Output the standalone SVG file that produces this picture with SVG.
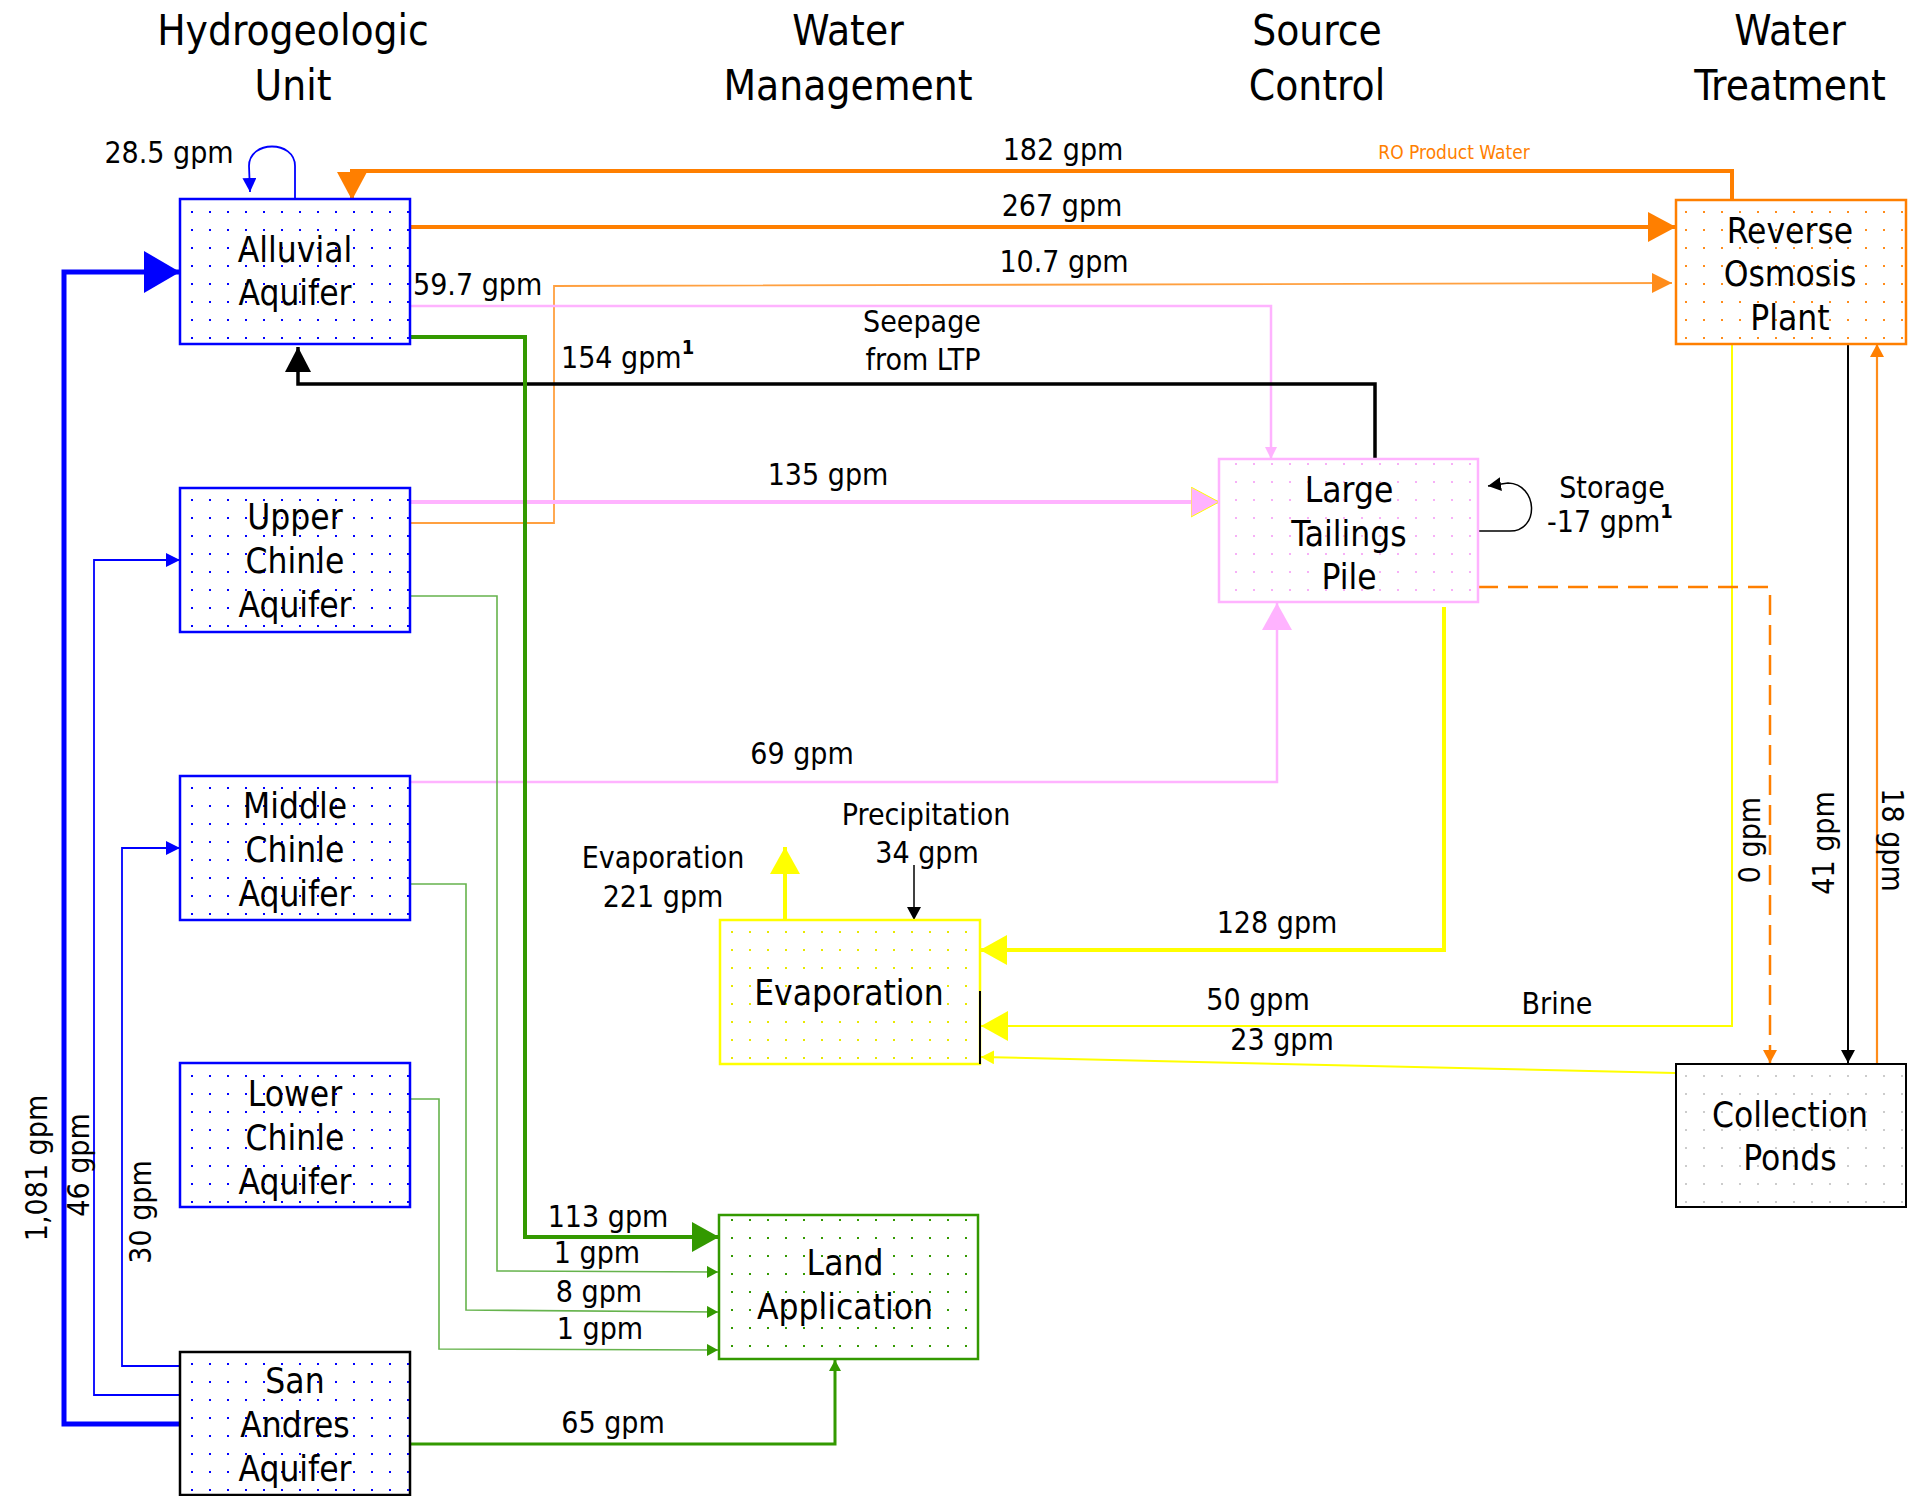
<svg xmlns="http://www.w3.org/2000/svg" width="1908" height="1496" viewBox="0 0 1908 1496">
<style>
text{font-family:"DejaVu Sans Condensed","DejaVu Sans","Liberation Sans",sans-serif;fill:#000}
.hdr{font-size:42px;text-anchor:middle}
.lbl{font-size:35px;text-anchor:middle}
.e{font-size:30px;text-anchor:middle}
.es{font-size:30px;text-anchor:start}
.sup{font-size:20px;font-weight:bold}
.box{stroke-width:2.5}
.c{fill:none}
</style>
<defs>
<pattern id="dBlue" x="3" y="5" width="18" height="18" patternUnits="userSpaceOnUse"><rect x="8" y="8" width="2" height="2" fill="#0000FF"/></pattern>
<pattern id="dPink" x="3" y="5" width="18" height="18" patternUnits="userSpaceOnUse"><rect x="8" y="8" width="2" height="2" fill="#F7B0F7"/></pattern>
<pattern id="dOrange" x="3" y="5" width="18" height="18" patternUnits="userSpaceOnUse"><rect x="8" y="8" width="2" height="2" fill="#FF8C1A"/></pattern>
<pattern id="dYellow" x="3" y="5" width="18" height="18" patternUnits="userSpaceOnUse"><rect x="8" y="8" width="2" height="2" fill="#E8E800"/></pattern>
<pattern id="dGreen" x="3" y="5" width="18" height="18" patternUnits="userSpaceOnUse"><rect x="8" y="8" width="2" height="2" fill="#339900"/></pattern>
<pattern id="dGray" x="3" y="5" width="18" height="18" patternUnits="userSpaceOnUse"><rect x="8" y="8" width="2" height="2" fill="#CCCCCC"/></pattern>
<marker id="bOrange" markerUnits="userSpaceOnUse" markerWidth="30" markerHeight="32" refX="27" refY="15" orient="auto"><path d="M0,0 L28,15 L0,30 z" fill="#FF7F00"/></marker>
<marker id="mOrange" markerUnits="userSpaceOnUse" markerWidth="22" markerHeight="22" refX="20" refY="10" orient="auto"><path d="M0,0 L20,10 L0,20 z" fill="#FF8C1A"/></marker>
<marker id="sOrange" markerUnits="userSpaceOnUse" markerWidth="16" markerHeight="16" refX="13" refY="7" orient="auto"><path d="M0,0 L13,7 L0,14 z" fill="#FF7F00"/></marker>
<marker id="bBlue" markerUnits="userSpaceOnUse" markerWidth="38" markerHeight="44" refX="36" refY="21" orient="auto"><path d="M0,0 L36,21 L0,42 z" fill="#0000FF"/></marker>
<marker id="sBlue" markerUnits="userSpaceOnUse" markerWidth="16" markerHeight="16" refX="14" refY="7" orient="auto"><path d="M0,0 L14,7 L0,14 z" fill="#0000FF"/></marker>
<marker id="bPink" markerUnits="userSpaceOnUse" markerWidth="32" markerHeight="34" refX="28" refY="15" orient="auto"><path d="M0,0 L28,15 L0,30 z" fill="#FFB3FF" stroke="#FFFF00" stroke-width="1"/></marker>
<marker id="bPink2" markerUnits="userSpaceOnUse" markerWidth="30" markerHeight="32" refX="27" refY="15" orient="auto"><path d="M0,0 L27,15 L0,30 z" fill="#FFB3FF"/></marker>
<marker id="sPink" markerUnits="userSpaceOnUse" markerWidth="14" markerHeight="14" refX="12" refY="6" orient="auto"><path d="M0,0 L12,6 L0,12 z" fill="#FFB3FF"/></marker>
<marker id="bBlack" markerUnits="userSpaceOnUse" markerWidth="28" markerHeight="30" refX="25" refY="13" orient="auto"><path d="M0,0 L25,13 L0,26 z" fill="#000"/></marker>
<marker id="sBlack" markerUnits="userSpaceOnUse" markerWidth="16" markerHeight="16" refX="13" refY="7" orient="auto"><path d="M0,0 L13,7 L0,14 z" fill="#000"/></marker>
<marker id="bYellow" markerUnits="userSpaceOnUse" markerWidth="30" markerHeight="32" refX="27" refY="15" orient="auto"><path d="M0,0 L27,15 L0,30 z" fill="#FFFF00"/></marker>
<marker id="sYellow" markerUnits="userSpaceOnUse" markerWidth="16" markerHeight="16" refX="13" refY="7" orient="auto"><path d="M0,0 L13,7 L0,14 z" fill="#FFFF00"/></marker>
<marker id="bGreen" markerUnits="userSpaceOnUse" markerWidth="30" markerHeight="32" refX="27" refY="15" orient="auto"><path d="M0,0 L27,15 L0,30 z" fill="#339900"/></marker>
<marker id="sGreen" markerUnits="userSpaceOnUse" markerWidth="14" markerHeight="14" refX="11" refY="6" orient="auto"><path d="M0,0 L11,6 L0,12 z" fill="#339900"/></marker>
</defs>
<rect width="1908" height="1496" fill="#FFFFFF"/>

<g id="headers">
<text class="hdr" x="293" y="45">Hydrogeologic</text><text class="hdr" x="293" y="100">Unit</text>
<text class="hdr" x="848" y="45">Water</text><text class="hdr" x="848" y="100">Management</text>
<text class="hdr" x="1317" y="45">Source</text><text class="hdr" x="1317" y="100">Control</text>
<text class="hdr" x="1790" y="45">Water</text><text class="hdr" x="1790" y="100">Treatment</text>
</g>

<g id="connectors" class="c">
<!-- 28.5 gpm self loop -->
<path d="M295,199 V166 C295,140 249,140 249,166 L250,192" stroke="#0000FF" stroke-width="1.8" fill="none" marker-end="url(#sBlue)"/>
<!-- 182 gpm RO product water -->
<path d="M1732,199 V171 H352 V199" stroke="#FF7F00" stroke-width="4" fill="none" marker-end="url(#bOrange)"/>
<!-- 267 gpm -->
<path d="M410,227 H1675" stroke="#FF7F00" stroke-width="4" fill="none" marker-end="url(#bOrange)"/>
<!-- 10.7 gpm -->
<path d="M410,523 H554 V286 L1672,283" stroke="#FFA040" stroke-width="1.8" fill="none" marker-end="url(#mOrange)"/>
<!-- 59.7 gpm -->
<path d="M410,306 H1271 V459" stroke="#FFB3FF" stroke-width="2.5" fill="none" marker-end="url(#sPink)"/>
<!-- 154 gpm seepage -->
<path d="M1375,459 V384 H298 V347" stroke="#000" stroke-width="3.5" fill="none" marker-end="url(#bBlack)"/>
<!-- 135 gpm -->
<path d="M410,502 H1219" stroke="#FFB3FF" stroke-width="4" fill="none" marker-end="url(#bPink)"/>
<!-- 69 gpm -->
<path d="M410,782 H1277 V603" stroke="#FFB3FF" stroke-width="2.5" fill="none" marker-end="url(#bPink2)"/>
<!-- storage loop -->
<path d="M1478,531 H1510 C1540,531 1538,484 1508,483 L1488,486" stroke="#000" stroke-width="1.5" fill="none" marker-end="url(#sBlack)"/>
<!-- 113 gpm -->
<path d="M410,337 H525 V1237 H719" stroke="#339900" stroke-width="4" fill="none" marker-end="url(#bGreen)"/>
<!-- 1 gpm upper -->
<path d="M410,596 H497 V1271 L718,1272" stroke="#66B34D" stroke-width="1.6" fill="none" marker-end="url(#sGreen)"/>
<!-- 8 gpm middle -->
<path d="M410,884 H466 V1310 L718,1312" stroke="#66B34D" stroke-width="1.6" fill="none" marker-end="url(#sGreen)"/>
<!-- 1 gpm lower -->
<path d="M410,1099 H439 V1349 L718,1350" stroke="#66B34D" stroke-width="1.6" fill="none" marker-end="url(#sGreen)"/>
<!-- 65 gpm -->
<path d="M410,1444 H835 V1360" stroke="#339900" stroke-width="3" fill="none" marker-end="url(#sGreen)"/>
<!-- 1,081 gpm -->
<path d="M180,1424 H64 V272 H180" stroke="#0000FF" stroke-width="5" fill="none" marker-end="url(#bBlue)"/>
<!-- 46 gpm -->
<path d="M180,1395 H94 V560 H180" stroke="#0000FF" stroke-width="1.8" fill="none" marker-end="url(#sBlue)"/>
<!-- 30 gpm -->
<path d="M180,1366 H122 V848 H180" stroke="#0000FF" stroke-width="1.8" fill="none" marker-end="url(#sBlue)"/>
<!-- 128 gpm -->
<path d="M1444,607 V950 H980" stroke="#FFFF00" stroke-width="4" fill="none" marker-end="url(#bYellow)"/>
<!-- brine 50 gpm -->
<path d="M1732,344 V1026 H981" stroke="#FFFF00" stroke-width="2" fill="none" marker-end="url(#bYellow)"/>
<!-- 23 gpm -->
<path d="M1675,1073 L981,1057" stroke="#FFFF00" stroke-width="2" fill="none" marker-end="url(#sYellow)"/>
<!-- evaporation 221 -->
<path d="M785,920 V847" stroke="#FFFF00" stroke-width="4" fill="none" marker-end="url(#bYellow)"/>
<!-- precipitation 34 -->
<path d="M914,865 V920" stroke="#000" stroke-width="1.5" fill="none" marker-end="url(#sBlack)"/>
<!-- 0 gpm dashed -->
<path d="M1478,587 H1770 V1063" stroke="#FF7F00" stroke-width="2.5" stroke-dasharray="20 10" fill="none" marker-end="url(#sOrange)"/>
<!-- 41 gpm -->
<path d="M1848,344 V1063" stroke="#000" stroke-width="2" fill="none" marker-end="url(#sBlack)"/>
<!-- 18 gpm -->
<path d="M1877,1063 V344" stroke="#FF8C1A" stroke-width="2.2" fill="none" marker-end="url(#sOrange)"/>
</g>

<g id="connector-labels">
<text class="e" x="169" y="163">28.5 gpm</text>
<text class="e" x="1063" y="160">182 gpm</text>
<text x="1454" y="159" style="font-size:19px;text-anchor:middle;fill:#FF7F00">RO Product Water</text>
<text class="e" x="1062" y="216">267 gpm</text>
<text class="e" x="1064" y="272">10.7 gpm</text>
<text class="es" x="413" y="295">59.7 gpm</text>
<text class="es" x="561" y="368">154 gpm<tspan class="sup" dy="-14">1</tspan></text>
<text class="e" x="922" y="332">Seepage</text>
<text class="e" x="923" y="370">from LTP</text>
<text class="e" x="828" y="485">135 gpm</text>
<text class="e" x="1612" y="498">Storage</text>
<text class="es" x="1547" y="532">-17 gpm<tspan class="sup" dy="-14">1</tspan></text>
<text class="e" x="802" y="764">69 gpm</text>
<text class="e" x="926" y="825">Precipitation</text>
<text class="e" x="927" y="863">34 gpm</text>
<text class="e" x="663" y="868">Evaporation</text>
<text class="e" x="663" y="907">221 gpm</text>
<text class="e" x="1277" y="933">128 gpm</text>
<text class="e" x="1258" y="1010">50 gpm</text>
<text class="e" x="1557" y="1014">Brine</text>
<text class="e" x="1282" y="1050">23 gpm</text>
<text class="e" x="608" y="1227">113 gpm</text>
<text class="e" x="597" y="1263">1 gpm</text>
<text class="e" x="599" y="1302">8 gpm</text>
<text class="e" x="600" y="1339">1 gpm</text>
<text class="e" x="613" y="1433">65 gpm</text>
<text class="e" transform="translate(47,1168) rotate(-90)">1,081 gpm</text>
<text class="e" transform="translate(89,1165) rotate(-90)">46 gpm</text>
<text class="e" transform="translate(151,1212) rotate(-90)">30 gpm</text>
<text class="e" transform="translate(1760,840) rotate(-90)">0 gpm</text>
<text class="e" transform="translate(1834,843) rotate(-90)">41 gpm</text>
<text class="e" transform="translate(1882,840) rotate(90)">18 gpm</text>
</g>

<g id="alluvial-aquifer">
<rect class="box" x="180" y="199" width="230" height="145" fill="url(#dBlue)" stroke="#0000FF"/>
<text class="lbl" x="295" y="262">Alluvial</text><text class="lbl" x="295" y="305">Aquifer</text>
</g>
<g id="upper-chinle-aquifer">
<rect class="box" x="180" y="488" width="230" height="144" fill="url(#dBlue)" stroke="#0000FF"/>
<text class="lbl" x="295" y="529">Upper</text><text class="lbl" x="295" y="573">Chinle</text><text class="lbl" x="295" y="617">Aquifer</text>
</g>
<g id="middle-chinle-aquifer">
<rect class="box" x="180" y="776" width="230" height="144" fill="url(#dBlue)" stroke="#0000FF"/>
<text class="lbl" x="295" y="818">Middle</text><text class="lbl" x="295" y="862">Chinle</text><text class="lbl" x="295" y="906">Aquifer</text>
</g>
<g id="lower-chinle-aquifer">
<rect class="box" x="180" y="1063" width="230" height="144" fill="url(#dBlue)" stroke="#0000FF"/>
<text class="lbl" x="295" y="1106">Lower</text><text class="lbl" x="295" y="1150">Chinle</text><text class="lbl" x="295" y="1194">Aquifer</text>
</g>
<g id="san-andres-aquifer">
<rect class="box" x="180" y="1352" width="230" height="143" fill="url(#dBlue)" stroke="#000"/>
<text class="lbl" x="295" y="1393">San</text><text class="lbl" x="295" y="1437">Andres</text><text class="lbl" x="295" y="1481">Aquifer</text>
</g>
<g id="large-tailings-pile">
<rect class="box" x="1219" y="459" width="259" height="143" fill="url(#dPink)" stroke="#FFB3FF"/>
<text class="lbl" x="1349" y="502">Large</text><text class="lbl" x="1349" y="546">Tailings</text><text class="lbl" x="1349" y="589">Pile</text>
</g>
<g id="reverse-osmosis-plant">
<rect class="box" x="1676" y="200" width="230" height="144" fill="url(#dOrange)" stroke="#FF7F00"/>
<text class="lbl" x="1790" y="243">Reverse</text><text class="lbl" x="1790" y="286">Osmosis</text><text class="lbl" x="1790" y="330">Plant</text>
</g>
<g id="evaporation">
<rect class="box" x="720" y="920" width="260" height="144" fill="url(#dYellow)" stroke="#FFFF00"/>
<path d="M980,991 V1064" stroke="#000" stroke-width="2" fill="none"/>
<text class="lbl" x="849" y="1005">Evaporation</text>
</g>
<g id="land-application">
<rect class="box" x="719" y="1215" width="259" height="144" fill="url(#dGreen)" stroke="#339900"/>
<text class="lbl" x="845" y="1275">Land</text><text class="lbl" x="845" y="1319">Application</text>
</g>
<g id="collection-ponds">
<rect x="1676" y="1064" width="230" height="143" fill="url(#dGray)" stroke="#000" stroke-width="2"/>
<text class="lbl" x="1790" y="1127">Collection</text><text class="lbl" x="1790" y="1170">Ponds</text>
</g>
</svg>
